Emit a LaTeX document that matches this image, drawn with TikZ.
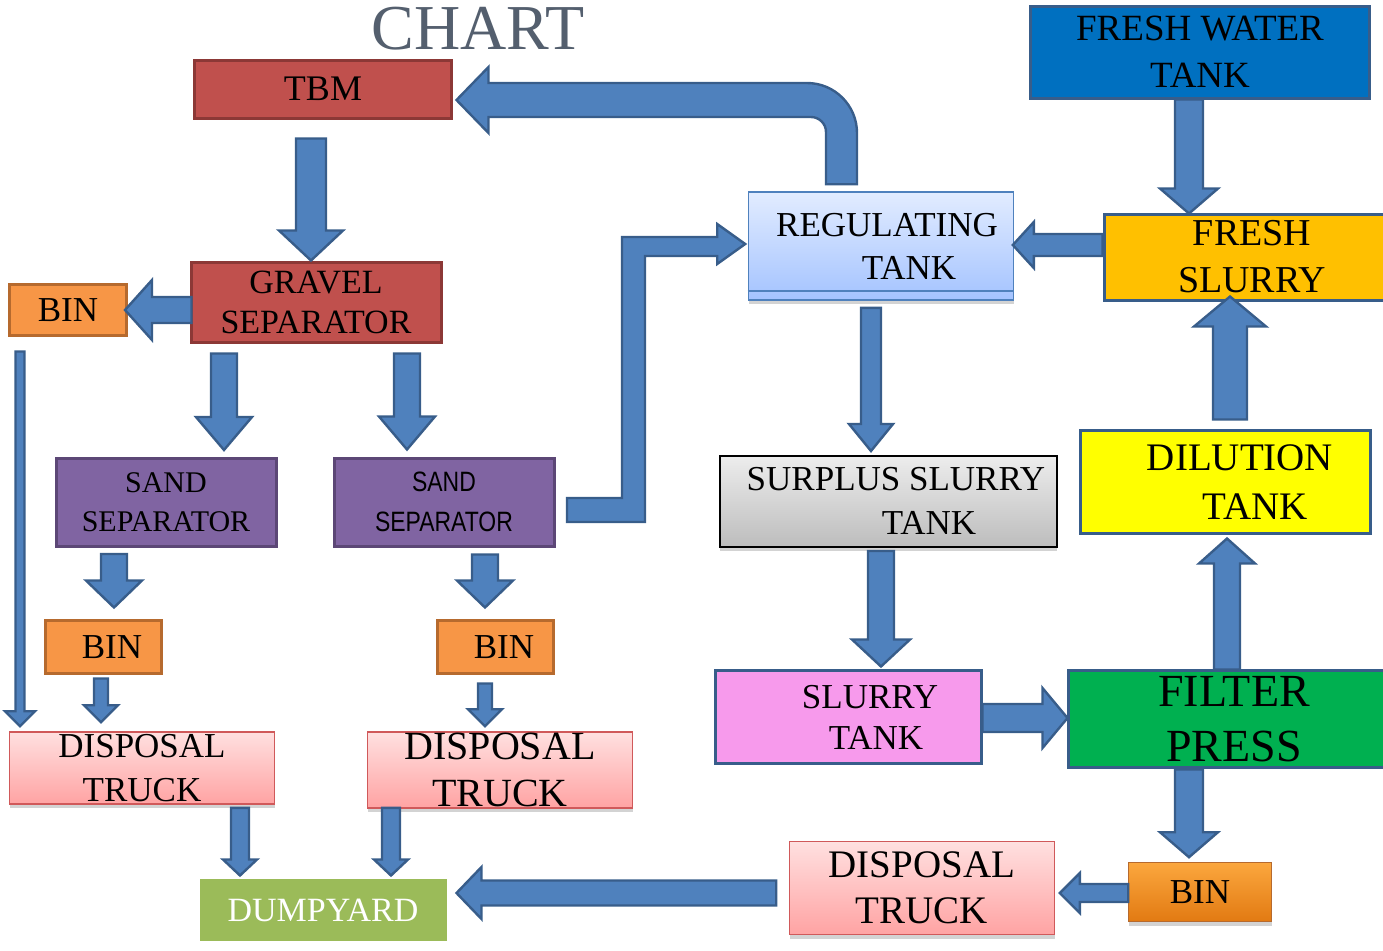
\documentclass[tikz,border=0pt]{standalone}
\usepackage{fontspec}
\setmainfont{Liberation Serif}
\newfontfamily\narrowsans[FakeStretch=0.82]{Liberation Sans}
\usetikzlibrary{positioning,calc,shadows}

\definecolor{arrowfill}{HTML}{4F81BD}
\definecolor{arrowedge}{HTML}{385D8A}
\definecolor{tbmfill}{HTML}{C0504D}
\definecolor{tbmedge}{HTML}{8C3836}
\definecolor{binfill}{HTML}{F79646}
\definecolor{binedge}{HTML}{B66A2E}
\definecolor{sandfill}{HTML}{8064A2}
\definecolor{sandedge}{HTML}{5C4776}
\definecolor{trucktop}{HTML}{FFE0E0}
\definecolor{truckbot}{HTML}{FFA3A3}
\definecolor{truckedge}{HTML}{D0595A}
\definecolor{dumpfill}{HTML}{9BBB59}
\definecolor{regtop}{HTML}{E2ECFF}
\definecolor{regbot}{HTML}{A4C3FF}
\definecolor{waterfill}{HTML}{0070C0}
\definecolor{slurryfill}{HTML}{FFC000}
\definecolor{dilfill}{HTML}{FFFF00}
\definecolor{surtop}{HTML}{EDEDED}
\definecolor{surbot}{HTML}{BDBDBD}
\definecolor{pinkfill}{HTML}{F79AEC}
\definecolor{pressfill}{HTML}{00B050}
\definecolor{bintop}{HTML}{FBA73E}
\definecolor{binbot}{HTML}{E27A12}
\definecolor{chartgrey}{HTML}{545F6E}

\newcommand{\setfs}[2]{\fontsize{#1}{#2}\selectfont}

% block arrow: tail, tip, half shaft, half head, head length (px)
\newcommand{\blockarrow}[5]{%
  \draw[flowarrow] let \p1=#1, \p2=#2,
    \n1={atan2(\y2-\y1,\x2-\x1)}, \n2={veclen(\x2-\x1,\y2-\y1)-#5*0.5pt}
    in ($(\p1)+(\n1+90:#3*0.5pt)$) -- ($(\p1)+(\n1:\n2)+(\n1+90:#3*0.5pt)$)
    -- ($(\p1)+(\n1:\n2)+(\n1+90:#4*0.5pt)$) -- (\p2)
    -- ($(\p1)+(\n1:\n2)+(\n1-90:#4*0.5pt)$) -- ($(\p1)+(\n1:\n2)+(\n1-90:#3*0.5pt)$)
    -- ($(\p1)+(\n1-90:#3*0.5pt)$) -- cycle;}

\tikzset{
  box/.style={rectangle, align=center, inner sep=0pt, line width=1.5pt},
  flowarrow/.style={fill=arrowfill, draw=arrowedge, line width=1.2pt, line join=miter},
  softshadow/.style={drop shadow={shadow xshift=0.4pt, shadow yshift=-2pt, opacity=0.35}},
  binbox/.style={box, draw=binedge, fill=binfill, minimum width=58pt, minimum height=26.5pt, font=\setfs{17.5}{20}},
  sandbox/.style={box, draw=sandedge, fill=sandfill, minimum width=110pt, minimum height=44pt},
  truckbox/.style={box, softshadow, draw=truckedge, line width=0.8pt, top color=trucktop, bottom color=truckbot, minimum width=132.5pt},
  tankbox/.style={box, draw=arrowedge},
}

\begin{document}
\begin{tikzpicture}[x=0.5pt, y=-0.5pt]
  \useasboundingbox (0,0) rectangle (1383,950);
  \clip (0,0) rectangle (1383,950);

  \node[font=\setfs{32}{32}, text=chartgrey] (title) at (478,29) {CHART};

  % left part
  \node[box, draw=tbmedge, fill=tbmfill, minimum width=128.5pt, minimum height=29pt, font=\setfs{18}{20}] (tbm) at (323,89) {TBM};
  \node[box, draw=tbmedge, fill=tbmfill, minimum width=125pt, minimum height=40pt, font=\setfs{17}{20}] (gravel) at (316,302) {GRAVEL\\SEPARATOR};
  \node[binbox, minimum width=58.5pt, minimum height=25.5pt] (bina) at (68,310) {BIN};
  \node[sandbox, font=\setfs{15}{19.5}] (sanda) at (166,502) {SAND\\SEPARATOR};
  \node[sandbox, font=\narrowsans\setfs{14}{20}] (sandb) at (444,502) {SAND\\SEPARATOR};
  \node[binbox] (binb) at (103,647) {\hspace*{9pt}BIN};
  \node[binbox] (binc) at (495,647) {\hspace*{9pt}BIN};
  \node[truckbox, minimum height=36pt, font=\setfs{17.5}{22}] (trucka) at (142,768) {DISPOSAL\\TRUCK};
  \node[truckbox, minimum height=38pt, font=\setfs{20}{23.5}] (truckb) at (500,770) {DISPOSAL\\TRUCK};
  \node[box, fill=dumpfill, minimum width=123.5pt, minimum height=31pt, text=white, font=\setfs{17}{20}] (dump) at (323,910) {DUMPYARD};

  % right part
  \node[box, softshadow, draw=arrowfill, line width=0.8pt, top color=regtop, bottom color=regbot, minimum width=132.5pt, minimum height=54pt, font=\setfs{17.5}{21.5}] (reg) at (881,246) {\hspace*{6pt}REGULATING\\\hspace*{28pt}TANK};
  \draw[arrowfill, line width=0.8pt] ($(reg.south west)+(0,-10)$) -- ($(reg.south east)+(0,-10)$);
  \node[tankbox, fill=waterfill, minimum width=169.5pt, minimum height=46pt, font=\setfs{18.5}{23.5}] (fwater) at (1200,52) {FRESH WATER\\TANK};
  \node[tankbox, fill=slurryfill, minimum width=148pt, minimum height=43pt, font=\setfs{19}{23.5}] (fslurry) at (1252,257) {FRESH\\SLURRY};
  \node[tankbox, fill=dilfill, minimum width=145pt, minimum height=51.5pt, font=\setfs{19.5}{24.5}] (dilution) at (1225,482) {\hspace*{15pt}DILUTION\\\hspace*{30pt}TANK};
  \node[box, softshadow, draw=black, line width=1pt, top color=surtop, bottom color=surbot, minimum width=168.5pt, minimum height=45.5pt, font=\setfs{17.5}{22}] (surplus) at (888,501) {\hspace*{8pt}SURPLUS SLURRY\\\hspace*{41pt}TANK};
  \node[tankbox, fill=pinkfill, minimum width=133pt, minimum height=46.5pt, font=\setfs{17.5}{20.5}] (slurry) at (848,717) {\hspace*{22pt}SLURRY\\\hspace*{28pt}TANK};
  \node[tankbox, fill=pressfill, minimum width=166pt, minimum height=48.5pt, font=\setfs{23}{27.5}] (filter) at (1234,719) {FILTER\\PRESS};
  \node[truckbox, minimum height=46.5pt, font=\setfs{19.5}{23}] (truckc) at (922,888) {DISPOSAL\\TRUCK};
  \node[box, softshadow, draw=binedge, line width=0.8pt, top color=bintop, bottom color=binbot, minimum width=71.5pt, minimum height=29.5pt, font=\setfs{17.5}{20}] (bind) at (1200,892) {BIN};

  % arrows
  \blockarrow{($(tbm.south)+(-12,19)$)}{($(gravel.north)+(-5,0)$)}{15}{32}{30}
  \blockarrow{($(gravel.west)+(2,8)$)}{($(bina.east)+(-3,0)$)}{13}{30}{27}
  \blockarrow{($(gravel.south)+(-92,10)$)}{($(sanda.north)+(58,-6.5)$)}{13}{28}{33}
  \blockarrow{($(gravel.south)+(91,10)$)}{($(sandb.north)+(-37,-7)$)}{13}{28}{33}
  \blockarrow{($(bina.south)+(-48,14.5)$)}{($(trucka.north)+(-122,-5)$)}{4.5}{15}{15}
  \blockarrow{($(sanda.south)+(-52,6.5)$)}{($(binb.north)+(11,-11.5)$)}{13}{28}{27}
  \blockarrow{($(sandb.south)+(41,7)$)}{($(binc.north)+(-10,-11.5)$)}{13}{28}{27}
  \blockarrow{($(binb.south)+(-2,3.5)$)}{($(trucka.north)+(-41,-9)$)}{7}{17}{17}
  \blockarrow{($(binc.south)+(-10,8.5)$)}{($(truckb.north)+(-15,-5)$)}{7}{17}{17}
  \blockarrow{($(trucka.south)+(98,3)$)}{($(dump.north)+(-83,-2)$)}{9}{17}{16}
  \blockarrow{($(truckb.south)+(-109,-1)$)}{($(dump.north)+(68,-2)$)}{9}{17}{16}
  \blockarrow{($(truckc.west)+(-12.5,5)$)}{($(dump.east)+(8.5,-17)$)}{12.5}{26}{25}
  \blockarrow{($(bind.west)+(0.5,1)$)}{($(truckc.east)+(4.5,5)$)}{9}{20}{20}
  \blockarrow{($(filter.south)+(-45,0.5)$)}{($(bind.north)+(-11,-4.5)$)}{14}{29}{25}
  \blockarrow{($(filter.north)+(-7,0.5)$)}{($(dilution.south)+(2,3.5)$)}{13}{28}{25}
  \blockarrow{($(dilution.north)+(5,-9.5)$)}{($(fslurry.south)+(-22,-5)$)}{17}{36}{30}
  \blockarrow{($(fwater.south)+(-11,0)$)}{($(fslurry.north)+(-63,1)$)}{14}{29}{25}
  \blockarrow{($(fslurry.west)+(0,-12)$)}{($(reg.east)+(-1.5,-1)$)}{11}{23}{21}
  \blockarrow{($(reg.south)+(-10,7)$)}{($(surplus.north)+(-17,-3.5)$)}{10}{22}{27}
  \blockarrow{($(surplus.south)+(-7,3.5)$)}{($(slurry.north)+(33,-2.5)$)}{13}{29}{27}
  \blockarrow{($(slurry.east)+(0,1)$)}{($(filter.west)+(1,-1)$)}{14}{30}{25}

  % bent arrows
  \coordinate (bendtail) at ($(sandb.east)+(11.5,8)$);
  \coordinate (bendtip) at ($(reg.west)+(-2.5,-2)$);
  \draw[flowarrow] let \p1=(bendtail), \p2=(bendtip) in
    (\x1,\y1+6pt) -- (\x1+27.5pt,\y1+6pt) -- (\x1+27.5pt,\y2+3.5pt) -- (\x2-14pt,\y2+3.5pt)
    -- (\x2-14pt,\y2+10pt) -- (\x2,\y2) -- (\x2-14pt,\y2-10pt) -- (\x2-14pt,\y2-6pt)
    -- (\x1+39pt,\y2-6pt) -- (\x1+39pt,\y1-6pt) -- (\x1,\y1-6pt) -- cycle;

  \coordinate (backtail) at ($(reg.north)+(-39.5,-7)$);
  \coordinate (backtip) at ($(tbm.east)+(3.5,11)$);
  \draw[flowarrow] let \p1=(backtail), \p2=(backtip) in
    (\x1+7.75pt,\y1) -- (\x1+7.75pt,\y2-16.5pt) arc[start angle=0, end angle=90, radius=25pt]
    -- (\x2+16pt,\y2+8.5pt) -- (\x2+16pt,\y2+16.5pt) -- (\x2,\y2) -- (\x2+16pt,\y2-16.5pt)
    -- (\x2+16pt,\y2-8.5pt) -- (\x1-15.25pt,\y2-8.5pt) arc[start angle=90, end angle=0, radius=7.5pt]
    -- (\x1-7.75pt,\y1) -- cycle;
\end{tikzpicture}
\end{document}
